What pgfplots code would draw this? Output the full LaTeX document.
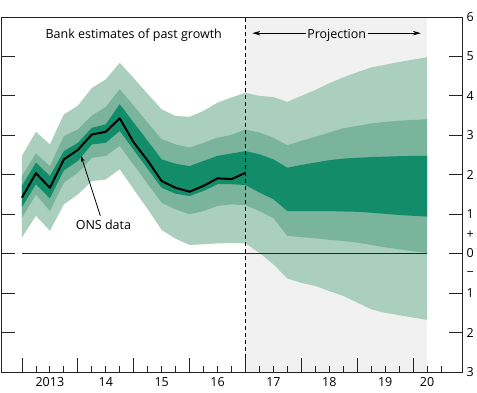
\documentclass[border=0pt]{standalone}
\usepackage{fontspec}
\setmainfont{Open Sans}
\usepackage{pgfplots}
\pgfplotsset{compat=1.18}
\usepackage{pgfplotstable}
\usepgfplotslibrary{fillbetween}
\usetikzlibrary{arrows.meta}

\definecolor{fanD}{RGB}{19,140,105}
\definecolor{fanM}{RGB}{122,180,157}
\definecolor{fanL}{RGB}{171,207,191}
\definecolor{projbg}{RGB}{241,241,241}
\definecolor{axisc}{RGB}{35,35,35}

\newcommand{\chartfont}{\fontsize{12.5bp}{15bp}\selectfont}

% quarters: 0 = first estimate, 16 = last ONS data, 29 = end of projection
\pgfplotstableread{
x  lt   mt   dt   db   mb   lb
0  2.48 1.97 1.72 1.18 0.91 0.41
1  3.09 2.54 2.31 1.76 1.50 0.96
2  2.77 2.22 1.97 1.40 1.08 0.58
3  3.53 2.98 2.60 2.11 1.80 1.25
4  3.75 3.15 2.81 2.35 2.05 1.50
5  4.20 3.50 3.19 2.77 2.43 1.84
6  4.42 3.72 3.28 2.81 2.48 1.88
7  4.84 4.17 3.79 3.11 2.73 2.14
8  4.45 3.75 3.32 2.63 2.25 1.63
9  4.05 3.32 2.86 2.15 1.77 1.13
10 3.66 2.90 2.39 1.67 1.29 0.60
11 3.49 2.77 2.28 1.52 1.12 0.38
12 3.47 2.69 2.22 1.46 1.00 0.22
13 3.62 2.81 2.35 1.59 1.08 0.24
14 3.83 2.94 2.48 1.76 1.21 0.26
15 3.96 3.01 2.54 1.76 1.25 0.27
16 4.08 3.15 2.60 1.74 1.23 0.26
17 4.00 3.07 2.52 1.55 1.08 0.02
18 3.97 2.94 2.39 1.38 0.90 -0.27
19 3.85 2.75 2.18 1.08 0.45 -0.63
20 4.00 2.86 2.25 1.08 0.42 -0.74
21 4.15 2.96 2.31 1.08 0.39 -0.82
22 4.32 3.07 2.37 1.08 0.35 -0.95
23 4.47 3.18 2.41 1.07 0.32 -1.07
24 4.60 3.24 2.43 1.06 0.28 -1.24
25 4.72 3.30 2.45 1.04 0.22 -1.41
26 4.79 3.34 2.46 1.01 0.16 -1.50
27 4.86 3.37 2.47 0.98 0.11 -1.56
28 4.92 3.39 2.48 0.96 0.06 -1.62
29 4.98 3.41 2.48 0.94 0.02 -1.68
}\fan

\pgfplotstableread{
x  ons
0  1.42
1  2.04
2  1.67
3  2.39
4  2.63
5  3.02
6  3.09
7  3.43
8  2.82
9  2.36
10 1.84
11 1.67
12 1.57
13 1.72
14 1.91
15 1.89
16 2.05
}\ons

\begin{document}
\begin{tikzpicture}
\begin{axis}[
  scale only axis, width=461bp, height=355bp,
  xmin=-1.5, xmax=31.5, ymin=-3, ymax=6,
  axis on top,
  axis line style={axisc, line width=0.8bp},
  tick style={axisc, line width=0.8bp},
  tick align=inside,
  major tick length=13.5bp, minor tick length=5.5bp,
  xtick={0,4,...,28}, xticklabels={},
  minor xtick={1,2,3,5,6,7,9,10,11,13,14,15,17,18,19,21,22,23,25,26,27,29,30},
  extra x ticks={2,6,10,14,18,22,26,29},
  extra x tick labels={2013,14,15,16,17,18,19,20},
  extra x tick style={major tick length=0pt},
  xtick pos=bottom,
  xticklabel style={yshift=-2bp},
  ytick={-3,...,6},
  yticklabels={3,2,1,{\fontsize{12.5bp}{19bp}\selectfont\begin{tabular}{@{}c@{}}+\\0\\−\end{tabular}},1,2,3,4,5,6},
  ytick pos=both, yticklabel pos=right,
  yticklabel style={xshift=1bp},
  tick label style={font=\chartfont},
  /pgf/number format/assume math mode=true,
  clip=true,
]
\addplot[fill=projbg, draw=none, on layer=axis background] coordinates {(16,-3) (16,6) (29,6) (29,-3)} -- cycle;

\addplot[name path=lt, draw=none] table[x=x,y=lt]{\fan};
\addplot[name path=mt, draw=none] table[x=x,y=mt]{\fan};
\addplot[name path=dt, draw=none] table[x=x,y=dt]{\fan};
\addplot[name path=db, draw=none] table[x=x,y=db]{\fan};
\addplot[name path=mb, draw=none] table[x=x,y=mb]{\fan};
\addplot[name path=lb, draw=none] table[x=x,y=lb]{\fan};
\addplot[fill=fanL, draw=none, on layer=main] fill between[of=lt and lb];
\addplot[fill=fanM, draw=none, on layer=main] fill between[of=mt and mb];
\addplot[fill=fanD, draw=none, on layer=main] fill between[of=dt and db];

\addplot[axisc, line width=1.1bp] coordinates {(0,0) (29,0)};
\addplot[black, line width=1.1bp, dash pattern=on 4bp off 3bp] coordinates {(16,-3) (16,6)};
\addplot[black, line width=2bp, line join=round] table[x=x,y=ons]{\ons};

\node[font=\chartfont, anchor=base, inner sep=0pt] at (axis cs:8,5.46) {Bank estimates of past growth};
\node[font=\chartfont, anchor=base, inner sep=1.5bp] (proj) at (axis cs:22.53,5.46) {Projection};
\coordinate (la) at (axis cs:16.49,5.59);
\coordinate (ra) at (axis cs:28.55,5.59);
\draw[black, line width=0.9bp, -{Stealth[length=8bp,width=4.5bp]}] (proj.west |- la) -- (la);
\draw[black, line width=0.9bp, -{Stealth[length=8bp,width=4.5bp]}] (proj.east |- ra) -- (ra);

\node[font=\chartfont, anchor=base, inner sep=0pt] at (axis cs:5.83,0.62) {ONS data};
\draw[black, line width=0.8bp, -{Stealth[length=6bp,width=3.5bp]}] (axis cs:5.61,0.96) -- (axis cs:4.23,2.48);

\node[font=\chartfont, anchor=base east, inner sep=0pt] at (rel axis cs:1,1) [yshift=3bp] {Percentage increases in output on a year earlier};
\end{axis}
\pgfresetboundingbox
\path[use as bounding box] (-1bp,-21bp) rectangle (476bp,372bp);
\end{tikzpicture}
\end{document}
